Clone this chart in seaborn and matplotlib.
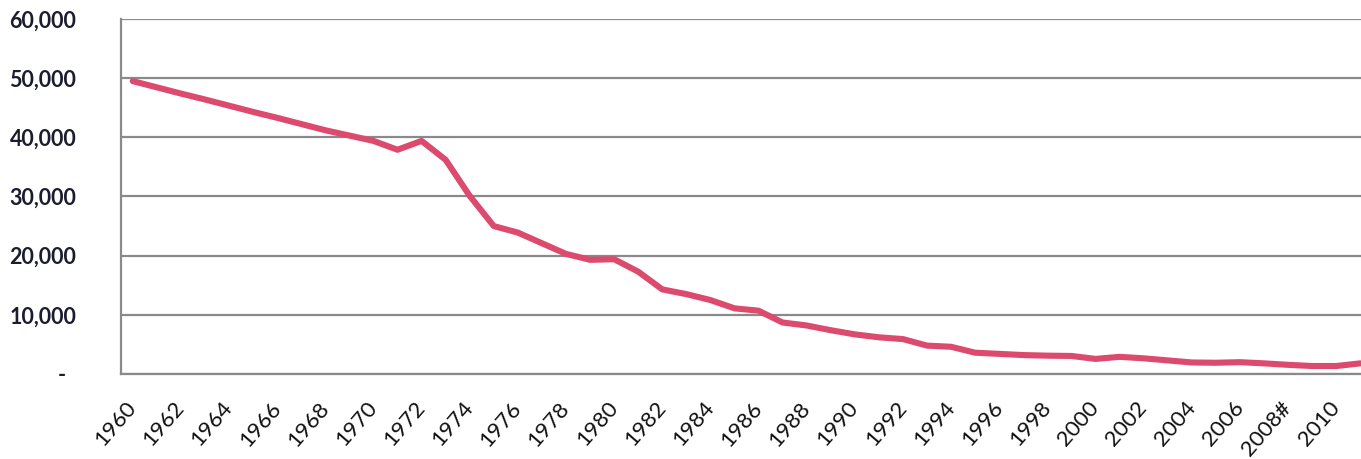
import numpy as np
import pandas as pd
import matplotlib
matplotlib.use("Agg")
import matplotlib.pyplot as plt
import seaborn as sns
from matplotlib.ticker import FuncFormatter, FixedLocator

# Annual totals, 1960-2011
years = list(range(1960, 2012))
values = [
    49500, 48450, 47400, 46400, 45350, 44300, 43300, 42250, 41200, 40300,
    39400, 37900, 39400, 36200, 30100, 25000, 23900, 22100, 20300, 19300,
    19400, 17300, 14300, 13500, 12500, 11100, 10700, 8700, 8200, 7400,
    6700, 6200, 5900, 4800, 4600, 3600, 3400, 3200, 3100, 3050,
    2550, 2900, 2650, 2300, 1950, 1900, 2000, 1800, 1550, 1350,
    1350, 1800,
]
label_years = list(range(1960, 2012, 2))
label_text = [("2008#" if y == 2008 else str(y)) for y in label_years]

df = pd.DataFrame({"year": years, "value": values})

sns.set_theme(style="white")
plt.rcParams["font.family"] = ["Lato", "DejaVu Sans"]

W, H = 1361, 459
fig = plt.figure(figsize=(W / 100, H / 100), dpi=100)
ax = fig.add_axes([120.7 / W, 85 / H, 52 * 24.07 / W, 355 / H])

grid_c = "#8a8a8a"
sns.lineplot(data=df, x="year", y="value", ax=ax, color="#dc4a6e",
             linewidth=4.4, solid_joinstyle="round", zorder=3)

ax.set_xlim(1959.5, 2011.5)
ax.set_ylim(0, 60000)
ax.set_xlabel("")
ax.set_ylabel("")

# y axis: gridlines every 10,000 with zero shown as an accounting-style dash
ax.set_yticks(np.arange(0, 60001, 10000))
ax.yaxis.set_major_formatter(FuncFormatter(lambda v, p: "-  " if v == 0 else f"{int(v):,}"))
ax.grid(axis="y", color=grid_c, linewidth=1.6, zorder=1)
ax.tick_params(axis="y", which="major", length=7, width=1.6, color=grid_c,
               direction="out", pad=25, labelsize=15.5, labelcolor="#1c1c30")
plt.setp(ax.get_yticklabels(), fontweight="bold")

# x axis: tick marks between categories, labels every other year
ax.xaxis.set_minor_locator(FixedLocator([y - 0.5 for y in years] + [2011.5]))
ax.xaxis.set_major_locator(FixedLocator(label_years))
ax.set_xticklabels(label_text)
ax.tick_params(axis="x", which="minor", length=8, width=1.6, color=grid_c, direction="out")
ax.tick_params(axis="x", which="major", length=0, pad=22, labelsize=16, labelcolor="#111111")
for t in ax.get_xticklabels():
    t.set_rotation(49)
    t.set_ha("right")
    t.set_va("center")
    t.set_rotation_mode("anchor")

for s in ["top", "right"]:
    ax.spines[s].set_visible(False)
for s in ["left", "bottom"]:
    ax.spines[s].set_color(grid_c)
    ax.spines[s].set_linewidth(1.6)

fig.savefig("out.png", dpi=100)
